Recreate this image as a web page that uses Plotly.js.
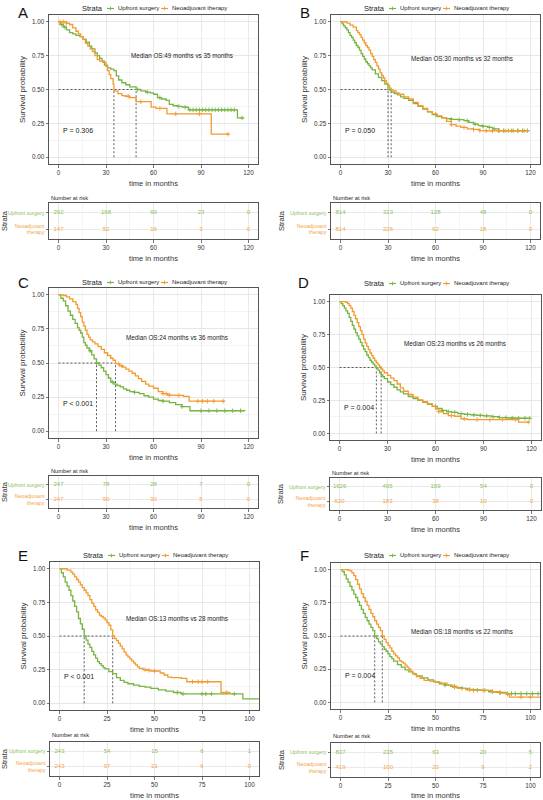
<!DOCTYPE html>
<html><head><meta charset="utf-8">
<script src="https://cdn.plot.ly/plotly-3.0.1.min.js"></script>
<style>html,body{margin:0;padding:0;background:#fff}#chart{width:543px;height:800px}</style>
</head><body><div id="chart"></div>
<script>
// ---------------- DATA ----------------
const strata = ['Upfront surgery', 'Neoadjuvant therapy'];
const legendTitle = 'Strata';
const panelLetters = ['A', 'B', 'C', 'D', 'E', 'F'];
const medianUp = [49, 30, 24, 23, 13, 18];
const medianNeo = [35, 32, 36, 26, 28, 22];
const pTexts = ['P = 0.306', 'P = 0.050', 'P < 0.001', 'P = 0.004', 'P < 0.001', 'P = 0.004'];
const riskTimes120 = [0, 30, 60, 90, 120];
const riskTimes100 = [0, 25, 50, 75, 100];
const riskUpA = [292, 168, 69, 23, 0],  riskNeoA = [147, 52, 16, 3, 0];
const riskUpB = [814, 313, 128, 48, 0], riskNeoB = [814, 226, 62, 18, 0];
const riskUpC = [247, 78, 28, 7, 0],    riskNeoC = [247, 90, 30, 5, 0];
const riskUpD = [1626, 495, 159, 54, 0], riskNeoD = [620, 183, 38, 10, 0];
const riskUpE = [243, 54, 15, 6, 1],    riskNeoE = [243, 97, 21, 6, 0];
const riskUpF = [837, 235, 63, 20, 5],  riskNeoF = [419, 100, 20, 9, 2];

// Kaplan-Meier step points (time, survival)
const aUpT = [0,1,3,5,7,9,11,13.5,15.5,17.5,19.5,21,23,24.5,26,27.5,29,31,33,35,36.5,38,40,42.5,45,49,52,55,58,60,62.5,65,68,70,72.5,75,78,82,113,117];
const aUpS = [1,0.98,0.96,0.94,0.92,0.91,0.90,0.89,0.87,0.85,0.82,0.80,0.77,0.75,0.73,0.71,0.68,0.66,0.65,0.64,0.60,0.57,0.55,0.535,0.52,0.50,0.49,0.48,0.475,0.465,0.44,0.43,0.42,0.39,0.38,0.375,0.37,0.35,0.29,0.29];
const aNeoT = [0,5,7,9,11,12.5,14,15.5,17,18.5,20,21.5,23,24.5,26,28,30,31,32,33,34.5,35,37.5,40,42,45,49,58.5,61.5,68.5,96.5,108];
const aNeoS = [1,0.99,0.98,0.955,0.93,0.91,0.89,0.87,0.84,0.82,0.80,0.78,0.75,0.72,0.71,0.70,0.67,0.64,0.61,0.58,0.54,0.49,0.47,0.455,0.45,0.44,0.41,0.37,0.36,0.32,0.17,0.17];
const aUpC = [2,4,50,56,64,76,80,83,85,87,89,91,93,95,97,99,101,103,105,107,109,111,116];
const aNeoC = [1,3,5,44,52,64,74,89,107];

const bUpT = [0,1,2,3,4,5,6,7,8,9,10,11,12,13,14,15,16,17,18,19,20,22,24,26,28,30,32,34,36,38,40,43,46,49,52,55,58,61,64,67,70,74,78,81,84,87,90,93,96,100,119];
const bUpS = [1,0.985,0.97,0.956,0.94,0.92,0.90,0.885,0.865,0.845,0.825,0.81,0.79,0.765,0.745,0.725,0.705,0.69,0.675,0.66,0.645,0.615,0.59,0.565,0.54,0.497,0.48,0.47,0.46,0.445,0.435,0.42,0.395,0.375,0.355,0.335,0.315,0.30,0.29,0.285,0.28,0.277,0.27,0.257,0.245,0.233,0.228,0.22,0.21,0.196,0.196];
const bNeoT = [0,2,4,6,8,10,11,12,13,14,15,16,17,18,19,20,21,22,23,24,25,26,27,28,29,30,31,32,33,35,37,40,43,46,49,52,55,58,61,64,67,70,73,76,80,84,88,92,119];
const bNeoS = [1,1,0.99,0.975,0.96,0.935,0.92,0.905,0.885,0.865,0.845,0.825,0.81,0.79,0.765,0.745,0.72,0.70,0.675,0.65,0.625,0.605,0.585,0.565,0.545,0.53,0.51,0.497,0.49,0.475,0.465,0.445,0.43,0.405,0.38,0.36,0.336,0.32,0.305,0.29,0.265,0.24,0.23,0.22,0.21,0.205,0.197,0.195,0.195];
const bUpC = [60,70,75,80,85,90,94,97,100,103,106,109,112,115,118];
const bNeoC = [70,78,84,88,92,96,100,104,108,112,116];

const cUpT = [0,1.5,3,4.5,6,7.5,9,10.5,12,13,14,15,16,17,18,19.5,21,22.5,24,25.5,27,28.5,30,31.5,33,35,37,39,41,43,45,48,51,54,57,60,63,66,70,74,78,83,118];
const cUpS = [1,0.975,0.955,0.92,0.88,0.85,0.82,0.79,0.76,0.74,0.72,0.69,0.65,0.63,0.61,0.59,0.56,0.53,0.50,0.485,0.465,0.44,0.415,0.39,0.36,0.345,0.335,0.325,0.31,0.30,0.29,0.285,0.275,0.26,0.25,0.235,0.225,0.22,0.21,0.195,0.18,0.15,0.15];
const cNeoT = [0,3,5,7,9,11,12,13,14,15,16,17,18,19,20,21.5,23,25,27,29,31,33,34.5,36,38.5,40.5,42.5,44.5,46.5,48.5,50.5,52.5,55,57,60,63,66,69,74,79,82.5,105];
const cNeoS = [1,0.995,0.985,0.97,0.95,0.93,0.90,0.87,0.84,0.80,0.77,0.74,0.71,0.69,0.67,0.655,0.64,0.62,0.60,0.575,0.555,0.535,0.52,0.495,0.48,0.47,0.455,0.44,0.425,0.405,0.385,0.365,0.345,0.33,0.315,0.29,0.275,0.265,0.262,0.255,0.22,0.22];
const cUpC = [20,24,34,48,66,78,90,95,100,105,110,115];
const cNeoC = [38,40,66,68,70,76,88,91,94,98,104];

const dUpT = [0,1,2,3,4,5,6,7,8,9,10,11,12,13,14,15,16,17,18,19,20,21,22,23,24,25,26,27,28,30,32,34,36,38,40,43,46,49,52,55,58,61,64,67,70,74,78,82,86,90,95,100,105,110,119];
const dUpS = [1,0.985,0.97,0.95,0.93,0.91,0.88,0.85,0.82,0.79,0.765,0.74,0.715,0.69,0.665,0.64,0.62,0.595,0.575,0.555,0.54,0.525,0.51,0.497,0.48,0.46,0.445,0.43,0.415,0.39,0.37,0.35,0.33,0.315,0.30,0.28,0.265,0.25,0.235,0.22,0.205,0.19,0.175,0.165,0.16,0.15,0.145,0.14,0.137,0.133,0.127,0.12,0.117,0.115,0.115];
const dNeoT = [0,2,4,5,6,7,8,9,10,11,12,13,14,15,16,17,18,19,20,21,22,23,24,25,26,27,28,30,32,34,36,38,40,43,46,49,52,55,58,60,62,65,68,72,76,80,90,100,112,119];
const dNeoS = [1,1,0.995,0.985,0.97,0.95,0.925,0.895,0.87,0.84,0.81,0.78,0.75,0.715,0.685,0.66,0.635,0.61,0.59,0.57,0.55,0.535,0.52,0.505,0.49,0.475,0.46,0.44,0.42,0.40,0.375,0.345,0.32,0.295,0.275,0.255,0.24,0.225,0.205,0.185,0.165,0.15,0.135,0.13,0.11,0.105,0.105,0.105,0.085,0.085];
const dUpC = [60,64,68,72,76,80,84,88,92,96,100,104,108,112,116,119];
const dNeoC = [62,70,78,86,94,102,110,118];

const eUpT = [0,1,2,3,4,5,6,7,8,9,10,11,12,13,14,15,16,17,18,19,20,21,22,23,24,26,28,30,32,34,36,39,42,45,48,52,56,60,64,96.5,105];
const eUpS = [1,0.97,0.94,0.90,0.87,0.84,0.80,0.76,0.72,0.68,0.63,0.59,0.55,0.50,0.47,0.44,0.415,0.385,0.36,0.335,0.31,0.295,0.28,0.265,0.255,0.235,0.22,0.19,0.17,0.155,0.145,0.135,0.125,0.12,0.11,0.10,0.09,0.08,0.07,0.033,0.033];
const eNeoT = [0,2,4,6,7,8,9,10,11,12,13,14,15,16,17,18,19,20,21,22,23,24,25,26,27,28,29,30,31,32,33,34,35,36,37,38,39,40,41,42,44,46,48,53,55,57,59,64,67,85,90];
const eNeoS = [1,1,0.99,0.975,0.96,0.94,0.92,0.90,0.88,0.86,0.84,0.82,0.80,0.77,0.745,0.72,0.695,0.675,0.655,0.645,0.635,0.62,0.60,0.58,0.545,0.50,0.48,0.465,0.445,0.425,0.405,0.38,0.36,0.345,0.33,0.315,0.30,0.285,0.27,0.26,0.25,0.245,0.24,0.225,0.21,0.195,0.19,0.185,0.16,0.08,0.08];
const eUpC = [62,65,75,77,80,92];
const eNeoC = [45,47,50,70,73,75,78,88];

const fUpT = [0,1,2,3,4,5,6,7,8,9,10,11,12,13,14,15,16,17,18,19,20,21,22,23,24,25,26,27,28,30,32,34,36,38,40,43,46,49,52,55,58,61,64,67,70,74,78,82,87,105];
const fUpS = [1,0.985,0.96,0.93,0.905,0.875,0.845,0.815,0.79,0.76,0.73,0.70,0.67,0.64,0.615,0.59,0.565,0.54,0.50,0.48,0.455,0.44,0.42,0.40,0.385,0.365,0.345,0.33,0.31,0.285,0.265,0.245,0.23,0.215,0.20,0.185,0.17,0.155,0.14,0.13,0.12,0.11,0.105,0.097,0.093,0.09,0.08,0.075,0.066,0.066];
const fNeoT = [0,2,4,5,6,7,8,9,10,11,12,13,14,15,16,17,18,19,20,21,22,23,24,25,26,27,28,29,30,31,32,33,34,35,36,37,38,39,40,42,44,47,50,53,56,59,62,66,70,76,80,84,88,89,105];
const fNeoS = [1,1,0.995,0.99,0.975,0.955,0.925,0.89,0.855,0.82,0.79,0.76,0.73,0.70,0.67,0.645,0.615,0.59,0.565,0.54,0.50,0.475,0.45,0.43,0.41,0.385,0.365,0.35,0.335,0.315,0.305,0.295,0.28,0.265,0.25,0.235,0.22,0.21,0.195,0.18,0.165,0.16,0.15,0.145,0.13,0.115,0.105,0.095,0.09,0.09,0.08,0.07,0.06,0.04,0.04];
const fUpC = [55,60,64,68,72,76,80,84,88,90,92,95,98,101,104];
const fNeoC = [60,70,75,80,84,88,95,100];

// ---------------- ASSEMBLY ----------------
const panels = [
  {upT:aUpT, upS:aUpS, neoT:aNeoT, neoS:aNeoS, upC:aUpC, neoC:aNeoC, rT:riskTimes120, rU:riskUpA, rN:riskNeoA},
  {upT:bUpT, upS:bUpS, neoT:bNeoT, neoS:bNeoS, upC:bUpC, neoC:bNeoC, rT:riskTimes120, rU:riskUpB, rN:riskNeoB},
  {upT:cUpT, upS:cUpS, neoT:cNeoT, neoS:cNeoS, upC:cUpC, neoC:cNeoC, rT:riskTimes120, rU:riskUpC, rN:riskNeoC},
  {upT:dUpT, upS:dUpS, neoT:dNeoT, neoS:dNeoS, upC:dUpC, neoC:dNeoC, rT:riskTimes120, rU:riskUpD, rN:riskNeoD},
  {upT:eUpT, upS:eUpS, neoT:eNeoT, neoS:eNeoS, upC:eUpC, neoC:eNeoC, rT:riskTimes100, rU:riskUpE, rN:riskNeoE},
  {upT:fUpT, upS:fUpS, neoT:fNeoT, neoS:fNeoS, upC:fUpC, neoC:fNeoC, rT:riskTimes100, rU:riskUpF, rN:riskNeoF}
];

// layout geometry in pixels (left, right, top, bottom)
const W = 543, H = 800;
const geo = [
  {plot:[49,258,15,164],  table:[49,258,203,239],  legY:8,   letX:16,  letY:12,  nrY:198, xr:[-6,126], dt:30, medX:78, medY:0.75},
  {plot:[331,540,15,164], table:[331,540,203,239], legY:8,   letX:298, letY:12,  nrY:198, xr:[-6,126], dt:30, medX:77, medY:0.73},
  {plot:[49,258,288,438], table:[49,258,476,508],  legY:282, letX:16,  letY:282, nrY:471, xr:[-6,126], dt:30, medX:75, medY:0.686},
  {plot:[330,541,295,440],table:[330,541,478,510], legY:283, letX:296, letY:282, nrY:473, xr:[-6,126], dt:30, medX:72, medY:0.684},
  {plot:[50,259,562,710], table:[50,259,742,776],  legY:555, letX:16,  letY:555, nrY:735, xr:[-5,105], dt:25, medX:62, medY:0.633},
  {plot:[331,540,563,709],table:[331,540,743,777], legY:555, letX:298, letY:555, nrY:736, xr:[-5,105], dt:25, medX:64, medY:0.534}
];
// legend element offsets relative to the plot's horizontal centre (px)
const LEG = {title: -74, sym: [-43, 11], label: [-38, 16]};

const GREEN = '#78b443', ORANGE = '#f49b30';
const GREEN_T = '#8cc157', ORANGE_T = '#f5a546';
const COLS = [GREEN, ORANGE];
const FONT = 'Liberation Sans, Arial, sans-serif';
const GRID = '#e3e3e3', GRID_MINOR = '#f1f1f1', FRAME = '#555555';

function stepAt(T, S, t) {
  let v = S[0];
  for (let i = 0; i < T.length; i++) { if (T[i] <= t) v = S[i]; }
  return v;
}
const fx = px => px / W;
const fy = px => 1 - px / H;

const traces = [];
const layout = {
  width: W, height: H,
  margin: {l: 0, r: 0, t: 0, b: 0},
  paper_bgcolor: '#fff', plot_bgcolor: '#fff',
  font: {family: FONT, color: '#222'},
  showlegend: false,
  annotations: [], shapes: [],
  hovermode: false
};

panels.forEach((p, i) => {
  const g = geo[i];
  const k = i + 1, kt = i + 7;
  const xa = k === 1 ? 'x' : 'x' + k, ya = k === 1 ? 'y' : 'y' + k;
  const xt = 'x' + kt, yt = 'y' + kt;

  // median reference lines
  const m1 = medianUp[i], m2 = medianNeo[i], mx = Math.max(m1, m2);
  traces.push({x: [0, mx, null, m1, m1, null, m2, m2], y: [0.5, 0.5, null, 0, 0.5, null, 0, 0.5],
    xaxis: xa, yaxis: ya, mode: 'lines', line: {color: '#333', width: 0.8, dash: '2px,2px'},
    showlegend: false, hoverinfo: 'skip'});

  // survival curves + censor marks
  [[p.upT, p.upS, p.upC], [p.neoT, p.neoS, p.neoC]].forEach(([T, S, C], j) => {
    traces.push({x: T, y: S, xaxis: xa, yaxis: ya, mode: 'lines', name: strata[j],
      line: {shape: 'hv', color: COLS[j], width: 1.3}});
    traces.push({x: C, y: C.map(t => stepAt(T, S, t)), xaxis: xa, yaxis: ya, mode: 'markers',
      name: strata[j] + ' (censored)',
      marker: {symbol: 'cross-thin', size: 3.2, line: {color: COLS[j], width: 0.9}}});
  });

  // risk table
  [[p.rU, 1, GREEN_T], [p.rN, 0, ORANGE_T]].forEach(([vals, row, col]) => {
    traces.push({x: p.rT, y: p.rT.map(() => row), text: vals.map(String), xaxis: xt, yaxis: yt,
      mode: 'text', textfont: {color: col, size: 6, family: FONT}, textposition: 'middle center'});
  });

  const baseAxis = {
    showline: true, mirror: true, linecolor: FRAME, linewidth: 1,
    ticks: 'outside', ticklen: 2.5, tickcolor: FRAME, tickwidth: 0.8,
    tickfont: {size: 6.3, color: '#333'}, zeroline: false, fixedrange: true,
    showgrid: true, gridcolor: GRID, gridwidth: 0.8
  };

  layout['xaxis' + (k === 1 ? '' : k)] = Object.assign({}, baseAxis, {
    domain: [fx(g.plot[0]), fx(g.plot[1])], anchor: ya, range: g.xr,
    tick0: 0, dtick: g.dt, minor: {showgrid: true, gridcolor: GRID_MINOR, dtick: g.dt / 2, tick0: 0},
    title: {text: 'time in months', font: {size: 7.5, color: '#333'}, standoff: 5}
  });
  layout['yaxis' + (k === 1 ? '' : k)] = Object.assign({}, baseAxis, {
    domain: [fy(g.plot[3]), fy(g.plot[2])], anchor: xa, range: [-0.05, 1.05],
    tickvals: [0, 0.25, 0.5, 0.75, 1], ticktext: ['0.00', '0.25', '0.50', '0.75', '1.00'],
    minor: {showgrid: true, gridcolor: GRID_MINOR, dtick: 0.125, tick0: 0},
    title: {text: 'Survival probability', font: {size: 8, color: '#333'}, standoff: 5}
  });
  layout['xaxis' + kt] = Object.assign({}, baseAxis, {
    domain: [fx(g.table[0]), fx(g.table[1])], anchor: yt, range: g.xr,
    tick0: 0, dtick: g.dt, minor: {showgrid: true, gridcolor: GRID_MINOR, dtick: g.dt / 2, tick0: 0},
    title: {text: 'time in months', font: {size: 7.5, color: '#333'}, standoff: 5}
  });
  layout['yaxis' + kt] = Object.assign({}, baseAxis, {
    domain: [fy(g.table[3]), fy(g.table[2])], anchor: xt, range: [-0.6, 1.6],
    tickvals: [1, 0],
    ticktext: ['<span style="color:' + GREEN_T + '">Upfront surgery</span>',
               '<span style="color:' + ORANGE_T + '">Neoadjuvant<br>therapy</span>'],
    tickfont: {size: 5.3}, ticks: 'outside', ticklen: 2.5,
    title: {text: 'Strata', font: {size: 7.5, color: '#333'}, standoff: 4}
  });

  // legend (drawn as annotations + small symbols, compact like the original)
  const cx = (g.plot[0] + g.plot[1]) / 2;
  layout.annotations.push({text: legendTitle, xref: 'paper', yref: 'paper', x: fx(cx + LEG.title), y: fy(g.legY),
    xanchor: 'left', yanchor: 'middle', showarrow: false, font: {size: 7.5, color: '#222'}});
  strata.forEach((name, j) => {
    const sx = cx + LEG.sym[j], sy = g.legY + 0.5;
    layout.shapes.push(
      {type: 'line', xref: 'paper', yref: 'paper', x0: fx(sx - 3.5), x1: fx(sx + 3.5), y0: fy(sy), y1: fy(sy),
       line: {color: COLS[j], width: 1.2}},
      {type: 'line', xref: 'paper', yref: 'paper', x0: fx(sx), x1: fx(sx), y0: fy(sy - 1.8), y1: fy(sy + 1.8),
       line: {color: COLS[j], width: 0.9}}
    );
    layout.annotations.push({text: name, xref: 'paper', yref: 'paper', x: fx(cx + LEG.label[j]), y: fy(g.legY),
      xanchor: 'left', yanchor: 'middle', showarrow: false, font: {size: 6, color: '#222'}});
  });

  layout.annotations.push(
    {text: panelLetters[i], xref: 'paper', yref: 'paper', x: fx(g.letX), y: fy(g.letY),
     xanchor: 'left', yanchor: 'middle', showarrow: false, font: {size: 15, color: '#111'}},
    {text: 'Median OS:' + medianUp[i] + ' months vs ' + medianNeo[i] + ' months', xref: xa, yref: ya,
     x: g.medX, y: g.medY, xanchor: 'center', yanchor: 'middle', showarrow: false, font: {size: 6.3, color: '#222'}},
    {text: pTexts[i], xref: xa, yref: ya, x: 1.5, y: 0.2, xanchor: 'left', yanchor: 'middle',
     showarrow: false, font: {size: 7, color: '#222'}},
    {text: 'Number at risk', xref: 'paper', yref: 'paper', x: fx(g.table[0]), y: fy(g.nrY),
     xanchor: 'left', yanchor: 'middle', showarrow: false, font: {size: 5.7, color: '#222'}}
  );
});

Plotly.newPlot('chart', traces, layout, {displayModeBar: false, staticPlot: true});
</script></body></html>
